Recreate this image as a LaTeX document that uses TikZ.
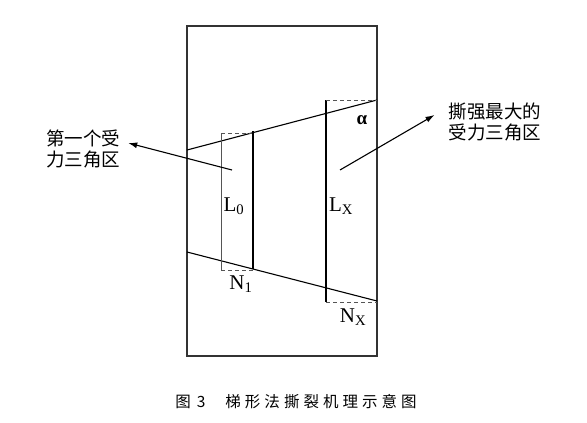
\documentclass[tikz,border=0pt]{standalone}
\usepackage{fontspec}
\setmainfont{Liberation Serif}
\newfontfamily\cjk{Noto Sans CJK SC}
\newfontfamily\cjkcap[LetterSpace=26]{Noto Sans CJK SC}
\usetikzlibrary{arrows.meta,positioning}
\definecolor{Frame}{HTML}{333333}
\definecolor{Guide}{HTML}{555555}

\begin{document}
\begin{tikzpicture}[x=1pt,y=-1pt,
  frame/.style={draw=Frame, line width=1.4pt},
  edge/.style={draw=black, line width=1.1pt},
  guide/.style={draw=Guide, line width=0.8pt},
  dashline/.style={draw=Guide, line width=0.9pt, dash pattern=on 4pt off 3pt},
  sym/.style={inner sep=0pt, font=\fontsize{21}{23}\selectfont},
  zone/.style={inner sep=0pt, align=center, font=\cjk\fontsize{18.5}{21}\selectfont},
  arr/.style={-{Latex[length=9pt,width=6pt]}, line width=1.1pt}]
  \useasboundingbox (0,0) rectangle (587,423);
  % specimen outline
  \draw[frame] (187,26) rectangle (377,356);
  % tear edges
  \coordinate (tl) at (187,150);
  \coordinate (tr) at (377,100);
  \coordinate (bl) at (187,252);
  \coordinate (br) at (377,301);
  \draw[edge] (tl) -- (tr);
  \draw[edge] (bl) -- (br);
  % first triangle
  \draw[guide] (221,133) -- (221,270);
  \draw[dashline] (221,133) -- (253,133);
  \draw[dashline] (221,270) -- (253,270);
  \draw[edge] (253,131) -- (253,269);
  % largest triangle
  \draw[edge] (326,100) -- (326,302);
  \draw[dashline] (326,100) -- (tr);
  \draw[dashline] (326,302) -- (377,302);
  % labels
  \node[sym] (l0) at (234,206) {L\textsubscript{0}};
  \node[sym] (lx) at (341,206) {L\textsubscript{X}};
  \node[sym] (n1) at (241,284) {N\textsubscript{1}};
  \node[sym] (nx) at (353,317) {N\textsubscript{X}};
  \node[sym, font=\bfseries\fontsize{19}{21}\selectfont] (al) at (362,120) {α};
  \node[zone] (first) at (83,149) {第一个受\\力三角区};
  \node[zone] (strong) at (495,122) {撕强最大的\\受力三角区};
  \coordinate (fa) at (232,170);
  \coordinate (sa) at (340,170);
  \draw[arr] (fa) -- ([shift={(8,-6)}]first.east);
  \draw[arr] (sa) -- ([shift={(-14,-7)}]strong.west);
  \node[inner sep=0pt, font=\cjkcap\fontsize{15.5}{17}\selectfont] (cap) at (296,402)
    {图\hspace{6pt}3\hspace{20pt}梯形法撕裂机理示意图};
\end{tikzpicture}
\end{document}
